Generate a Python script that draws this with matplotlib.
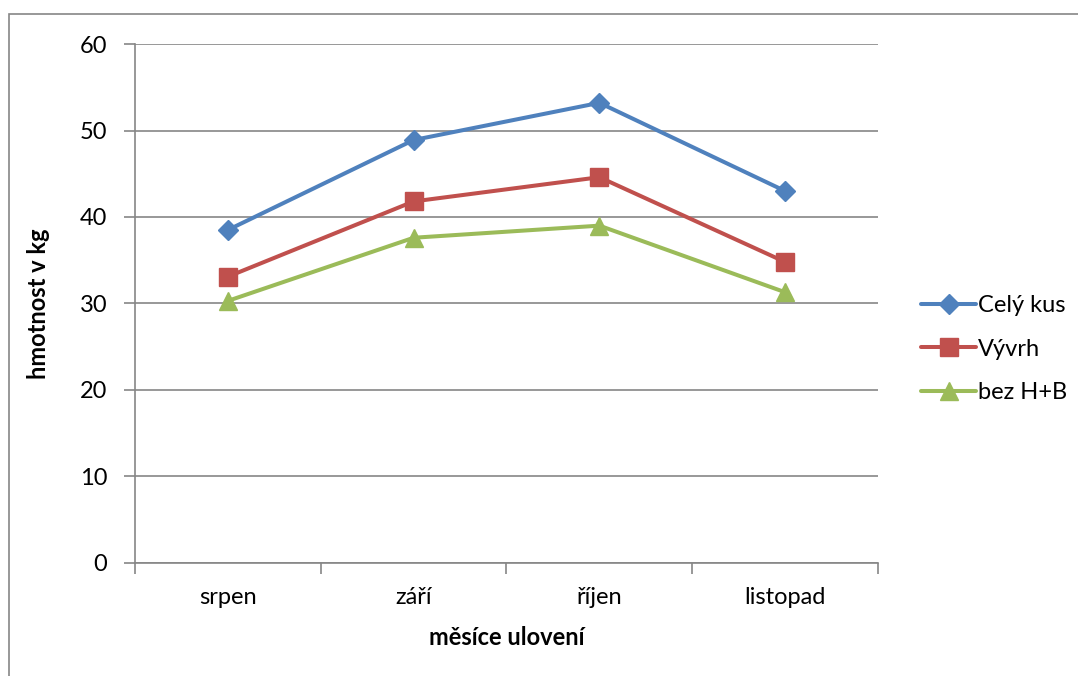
import numpy as np
import matplotlib.pyplot as plt
from matplotlib.patches import Rectangle

# data
months = ["srpen", "září", "říjen", "listopad"]
cely_kus = [38.5, 48.9, 53.2, 43.0]
vyvrh = [33.1, 41.8, 44.6, 34.8]
bez_hb = [30.3, 37.6, 39.0, 31.3]
y_ticks = [0, 10, 20, 30, 40, 50, 60]

series = [
    ("Celý kus", cely_kus, "#4F81BD", "D", 10),
    ("Vývrh", vyvrh, "#C0504D", "s", 12.5),
    ("bez H+B", bez_hb, "#9BBB59", "^", 13),
]

plt.rcParams["font.family"] = ["Lato", "DejaVu Sans"]
grey = "#868686"

fig = plt.figure(figsize=(10.78, 6.76), dpi=100)
ax = fig.add_axes([0.1252, 0.1672, 0.6893, 0.7677])

x = np.arange(len(months))
for name, vals, color, marker, ms in series:
    ax.plot(x, vals, color=color, lw=2.9, marker=marker, markersize=ms,
            markeredgecolor=color, label=name, solid_capstyle="round", zorder=3)

ax.set_xlim(-0.5, len(months) - 0.5)
ax.set_ylim(0, 60)
ax.set_yticks(y_ticks)
ax.set_xticks(x)
ax.set_xticklabels(months)
ax.set_xticks(np.arange(-0.5, len(months)), minor=True)
ax.tick_params(axis="x", which="major", length=0, pad=17, labelsize=17)
ax.tick_params(axis="x", which="minor", length=8, width=1.2, color=grey)
ax.tick_params(axis="y", length=8, width=1.2, color=grey, labelsize=17, pad=12)
ax.yaxis.grid(True, color=grey, lw=1.2)
ax.set_axisbelow(True)

for side in ["top", "right"]:
    ax.spines[side].set_visible(False)
for side in ["left", "bottom"]:
    ax.spines[side].set_color(grey)
    ax.spines[side].set_linewidth(1.2)

ax.set_xlabel("měsíce ulovení", fontsize=17, fontweight="bold", labelpad=13)
ax.set_ylabel("hmotnost v kg", fontsize=17, fontweight="bold", labelpad=21)

fig.legend(loc="center left", bbox_to_anchor=(0.835, 0.4837), frameon=False,
           fontsize=17, handlelength=2.3, handletextpad=0.1, labelspacing=0.95)

# outer chart border (cut off at right and bottom)
fig.patches.append(Rectangle((9 / 1078, -0.1), 1.2, 0.1 + 1 - 14 / 676,
                             transform=fig.transFigure, fill=False,
                             edgecolor=grey, lw=1.2))

fig.savefig("out.png", dpi=100)
